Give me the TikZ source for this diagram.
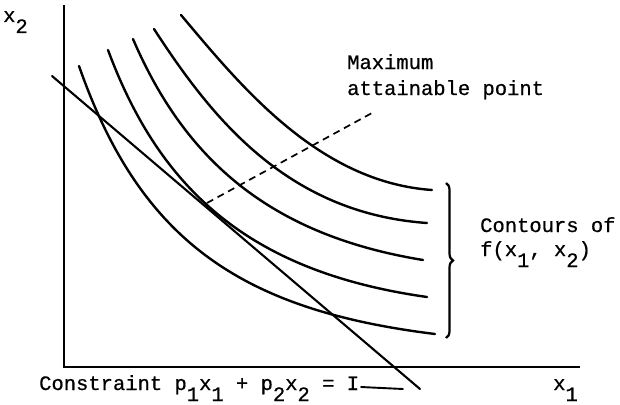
\documentclass[tikz,border=0pt]{standalone}
\usepackage{fontspec}
\setmainfont{Liberation Mono}[FakeBold=0.6]
\usetikzlibrary{decorations.pathreplacing}
\newcommand\lowd[1]{\raisebox{-11pt}{#1}}
\begin{document}
\begin{tikzpicture}[x=1pt,y=-1pt,
  axis/.style={line width=2.8pt},
  contour/.style={line width=2.4pt, line cap=round, line join=round},
  budget/.style={line width=2.1pt, line cap=round},
  guide/.style={line width=1.7pt, dash pattern=on 7pt off 5pt},
  lbl/.style={inner sep=0pt, anchor=base west, font=\fontsize{20.5}{24}\selectfont}]
\useasboundingbox (0,0) rectangle (620,404);
% axes
\coordinate (ytop) at (64,5);
\coordinate (o) at (64,367);
\coordinate (xend) at (580,367);
\draw[axis] (ytop) -- (o) -- (xend);
% contours of f
\draw[contour] (79,66) .. controls (140,240) and (240,310) .. (435,334);
\draw[contour] (108,50) .. controls (160,190) and (250,272) .. (427,297);
\draw[contour] (133,39) .. controls (185,160) and (270,235) .. (423,260);
\draw[contour] (154,29) .. controls (210,115) and (285,213) .. (427,223);
\draw[contour] (181,15) .. controls (240,85) and (318,182) .. (432,190);
% budget constraint
\coordinate (b0) at (52,76);
\coordinate (b1) at (420,389);
\draw[budget] (b0) -- (b1);
% maximum point guide
\coordinate (m0) at (207,203);
\coordinate (m1) at (372,113);
\draw[guide] (m0) -- (m1);
% brace
\coordinate (br0) at (446,183);
\coordinate (br1) at (446,338);
\draw[line width=2.2pt, decorate, decoration={brace, amplitude=7pt}] (br0) -- (br1);
% labels
\node[lbl] (ylab) at (3,22) {x\lowd{2}};
\node[lbl] (xlab) at (553,390) {x\lowd{1}};
\node[lbl] (max1) at (347,69) {Maximum};
\node[lbl] (max2) at (347,95) {attainable point};
\node[lbl] (cont1) at (480,232) {Contours of};
\node[lbl] (cont2) at (480,256) {f(x\lowd{1}, x\lowd{2})};
\node[lbl] (cl) at (39,390) {Constraint p\lowd{1}x\lowd{1} + p\lowd{2}x\lowd{2} = I};
\coordinate (ld0) at (361,387);
\coordinate (ld1) at (403,389);
\draw[line width=1.9pt, line cap=round] (ld0) -- (ld1);
\end{tikzpicture}
\end{document}
